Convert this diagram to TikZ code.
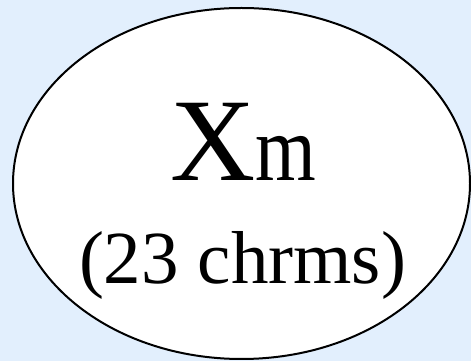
\documentclass[tikz,border=0pt]{standalone}
\usepackage{fontspec}
\setmainfont{Liberation Serif}
\usepackage{tikz}
\definecolor{bgblue}{RGB}{226,239,253}

\begin{document}
\begin{tikzpicture}[x=1pt,y=1pt,
    lbl/.style={anchor=base, inner sep=0pt}]
                    \fill[bgblue] (0,0) rectangle (471,361);
                    \useasboundingbox (0,0) rectangle (471,361);
                    \draw[line width=2pt, fill=white] (241.5,177.5) ellipse [x radius=228.5, y radius=175.5];
                    \node[lbl] (name) at (243,180) {\fontsize{118}{118}\selectfont X\fontsize{78}{78}\selectfont\scalebox{1}[1.2]{m}};
                    \node[lbl] (count) at (242.5,77) {\fontsize{75}{75}\selectfont (23 chrms)};
                \end{tikzpicture}
\end{document}
